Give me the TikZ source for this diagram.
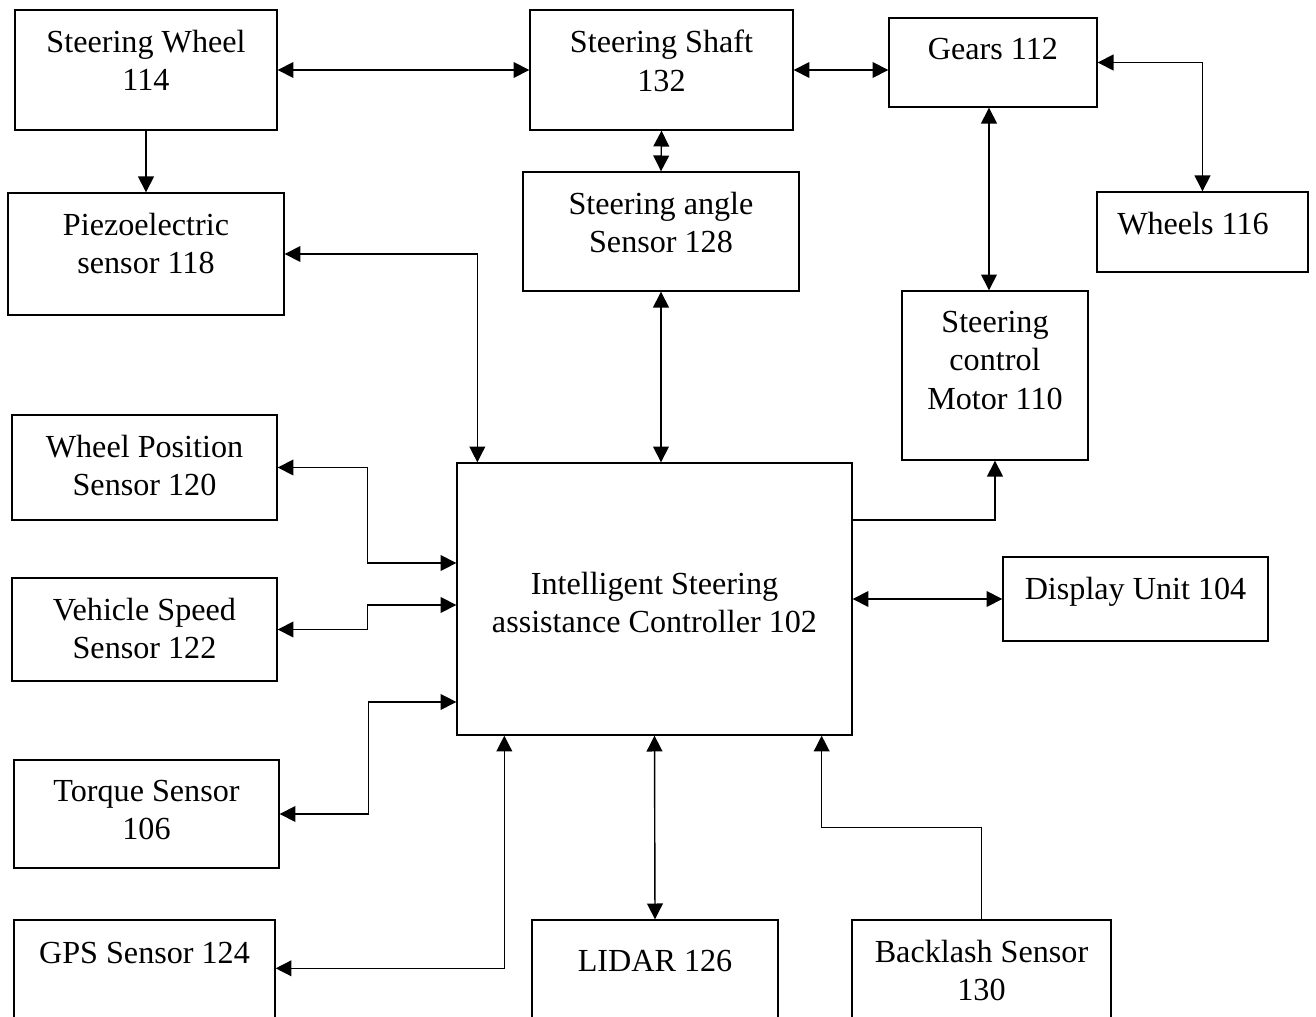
\documentclass[tikz,border=0pt]{standalone}
\usepackage{fontspec}
\setmainfont{Liberation Serif}
\usepackage{tikz}
\usetikzlibrary{arrows.meta}

\begin{document}
\begin{tikzpicture}[x=0.02cm, y=-0.02cm, line width=0.8pt,
    font=\fontsize{18.3}{22}\selectfont,
    >={Triangle[length=9pt,width=9pt]},
    blk/.style={draw, rectangle, inner sep=0pt},
    txt/.style={anchor=north, inner sep=0pt, align=center, yshift=-0.4cm}]
    \useasboundingbox (0,0) rectangle (1316,1017);
    \clip (0,0) rectangle (1316,1017);

    % top row
    \node[blk, minimum width=5.24cm, minimum height=2.4cm,
          label={[txt]north:Steering Wheel\\114}] (wheel) at (146,70) {};
    \node[blk, minimum width=5.26cm, minimum height=2.4cm,
          label={[txt]north:Steering Shaft\\132}] (shaft) at (661.5,70) {};
    \node[blk, minimum width=4.16cm, minimum height=1.78cm,
          label={[txt]north:Gears 112}] (gears) at (993,62.5) {};

    % second row
    \node[blk, minimum width=5.52cm, minimum height=2.44cm,
          label={[txt]north:Piezoelectric\\sensor 118}] (piezo) at (146,254) {};
    \node[blk, minimum width=5.52cm, minimum height=2.38cm,
          label={[txt]north:Steering angle\\Sensor 128}] (angle) at (661,231.5) {};
    \node[blk, minimum width=4.22cm, minimum height=1.6cm,
          label={[txt, xshift=-0.19cm]north:Wheels 116}] (wheels) at (1202.5,232) {};
    \node[blk, minimum width=3.72cm, minimum height=3.38cm,
          label={[txt]north:Steering\\control\\Motor 110}] (motor) at (995,375.5) {};

    % controller and sensors
    \node[blk, minimum width=7.9cm, minimum height=5.44cm,
          label={[align=center, yshift=-0.07cm]center:Intelligent Steering\\assistance Controller 102}]
          (isac) at (654.5,599) {};
    \node[blk, minimum width=5.3cm, minimum height=2.1cm,
          label={[txt]north:Wheel Position\\Sensor 120}] (wps) at (144.5,467.5) {};
    \node[blk, minimum width=5.3cm, minimum height=2.06cm,
          label={[txt]north:Vehicle Speed\\Sensor 122}] (vss) at (144.5,629.5) {};
    \node[blk, minimum width=5.3cm, minimum height=2.16cm,
          label={[txt]north:Torque Sensor\\106}] (torque) at (146.5,814) {};
    \node[blk, minimum width=5.3cm, minimum height=1.68cm,
          label={[txt]north:Display Unit 104}] (display) at (1135.5,599) {};

    % bottom row
    \node[blk, minimum width=5.22cm, minimum height=3cm,
          label={[txt, yshift=-0.04cm]north:GPS Sensor 124}] (gps) at (144.5,995) {};
    \node[blk, minimum width=4.92cm, minimum height=3cm,
          label={[txt, yshift=-0.2cm]north:LIDAR 126}] (lidar) at (655,995) {};
    \node[blk, minimum width=5.18cm, minimum height=3cm,
          label={[txt]north:Backlash Sensor\\130}] (backlash) at (981.5,995) {};

    % connectors
    \draw[<->] (wheel) -- (shaft);
    \draw[<->] (shaft.east) -- (shaft.east -| gears.west);
    \draw[<->] (gears.east) -| (wheels.north);
    \draw[<->] ([xshift=-0.12cm]motor.north |- gears.south) -- ([xshift=-0.12cm]motor.north);
    \draw[->] (wheel.south) -- (piezo.north);
    \draw[<->] (shaft.south) -- (angle.north);
    \draw[<->] (piezo.east) -| ([xshift=0.42cm]isac.north west);
    \draw[<->] (angle.south) -- (angle.south |- isac.north);
    \draw[<->] (wps.east) -- ++(90,0) |- ([yshift=0.72cm]isac.west);
    \draw[<->] (vss.east) -- ++(90,0) |- ([yshift=-0.12cm]isac.west);
    \draw[<->] (torque.east) -- ++(89,0) |- ([yshift=-2.06cm]isac.west);
    \draw[<->] ([yshift=-0.98cm]gps.north east) -| ([xshift=0.96cm]isac.south west);
    \draw[<->] (isac.south) -- (lidar.north);
    \draw[->] (backlash.north) -- ++(0,-92) -| ([xshift=-0.62cm]isac.south east);
    \draw[->] ([yshift=1.58cm]isac.east) -| (motor.south);
    \draw[<->] (isac.east) -- (display.west);
\end{tikzpicture}
\end{document}
